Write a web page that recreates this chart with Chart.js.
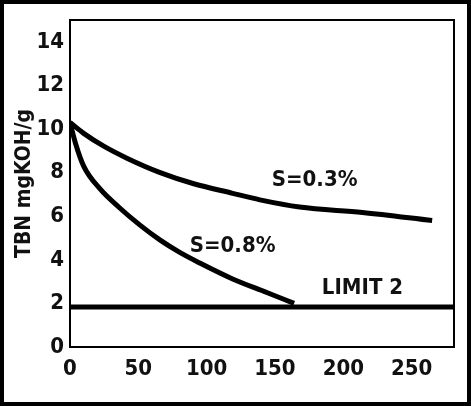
<!DOCTYPE html>
<html>
<head>
<meta charset="utf-8">
<script src="https://cdn.jsdelivr.net/npm/chart.js@4"></script>
<style>
  html, body { margin: 0; padding: 0; background: #fff; }
  #wrap { width: 471px; height: 406px; }
</style>
</head>
<body>
<div id="wrap"><canvas id="grafico" width="471" height="406"></canvas></div>
<script>
// valores
const xS03 = [0, 10, 25, 42, 66, 90, 119, 139, 168, 214, 265]
const yS03 = [10.3, 9.8, 9.2, 8.65, 8.0, 7.5, 7.05, 6.75, 6.42, 6.17, 5.8]

const xS08 = [0, 4, 10, 22, 36, 51, 66, 80, 95, 119, 144, 164]
const yS08 = [10.3, 9.35, 8.3, 7.25, 6.4, 5.6, 4.9, 4.35, 3.85, 3.12, 2.5, 2.0]

const xLimite = [0, 281]
const yLimite = [1.83, 1.83]

const ticksX = [0, 50, 100, 150, 200, 250]
const ticksY = [0, 2, 4, 6, 8, 10, 12, 14]

const rotulos = [
    { texto: 'S=0.3%', x: 179, y: 7.66 },
    { texto: 'S=0.8%', x: 119, y: 4.6 },
    { texto: 'LIMIT 2', x: 214, y: 2.7 }
]

const fonte = "'Liberation Sans Narrow', 'DejaVu Sans Condensed', 'Arial Narrow', sans-serif"

function pontos(xs, ys) {
    let p = []
    for (let i = 0; i < xs.length; i++) {
        p.push({ x: xs[i], y: ys[i] })
    }
    return p
}

// moldura externa, caixa do grafico e textos
const molduraPlugin = {
    id: 'moldura',
    afterDraw(chart) {
        const ctx = chart.ctx
        const a = chart.chartArea
        ctx.save()
        ctx.strokeStyle = '#000'
        ctx.lineWidth = 2
        ctx.strokeRect(a.left, a.top, a.right - a.left, a.bottom - a.top)
        ctx.lineWidth = 4
        ctx.strokeRect(2, 2, chart.width - 4, chart.height - 4)

        ctx.fillStyle = '#111'
        ctx.font = 'bold 22px ' + fonte
        ctx.textAlign = 'center'
        ctx.textBaseline = 'middle'
        for (let r of rotulos) {
            ctx.fillText(r.texto, chart.scales.x.getPixelForValue(r.x), chart.scales.y.getPixelForValue(r.y))
        }
        ctx.restore()
    }
}

const ctx = document.getElementById('grafico')

new Chart(ctx, {
    type: 'scatter',
    data: {
        datasets: [
            {
                label: 'S=0.3%',
                data: pontos(xS03, yS03),
                showLine: true,
                borderColor: '#000',
                borderWidth: 5,
                pointRadius: 0,
                cubicInterpolationMode: 'monotone'
            },
            {
                label: 'S=0.8%',
                data: pontos(xS08, yS08),
                showLine: true,
                borderColor: '#000',
                borderWidth: 5,
                pointRadius: 0,
                cubicInterpolationMode: 'monotone'
            },
            {
                label: 'LIMIT 2',
                data: pontos(xLimite, yLimite),
                showLine: true,
                borderColor: '#000',
                borderWidth: 5,
                pointRadius: 0
            }
        ]
    },
    options: {
        responsive: false,
        animation: false,
        events: [],
        layout: { padding: { left: 0, right: 17, top: 20, bottom: 0 } },
        plugins: {
            legend: { display: false },
            tooltip: { enabled: false }
        },
        scales: {
            x: {
                type: 'linear',
                min: 0,
                max: 281,
                afterBuildTicks: (s) => { s.ticks = ticksX.map(v => ({ value: v })) },
                afterFit: (s) => { s.height = 59 },
                grid: { display: false, drawTicks: false },
                border: { display: false },
                ticks: {
                    color: '#111',
                    padding: 9,
                    font: { family: fonte, size: 22, weight: 'bold' }
                }
            },
            y: {
                min: 0,
                max: 15,
                afterBuildTicks: (s) => { s.ticks = ticksY.map(v => ({ value: v })) },
                afterFit: (s) => { s.width = 70 },
                grid: { display: false, drawTicks: false },
                border: { display: false },
                ticks: {
                    color: '#111',
                    padding: 6,
                    font: { family: fonte, size: 22, weight: 'bold' }
                },
                title: {
                    display: true,
                    text: 'TBN mgKOH/g',
                    color: '#111',
                    padding: { top: 12, bottom: 0 },
                    font: { family: fonte, size: 21, weight: 'bold' }
                }
            }
        }
    },
    plugins: [molduraPlugin]
})
</script>
</body>
</html>
